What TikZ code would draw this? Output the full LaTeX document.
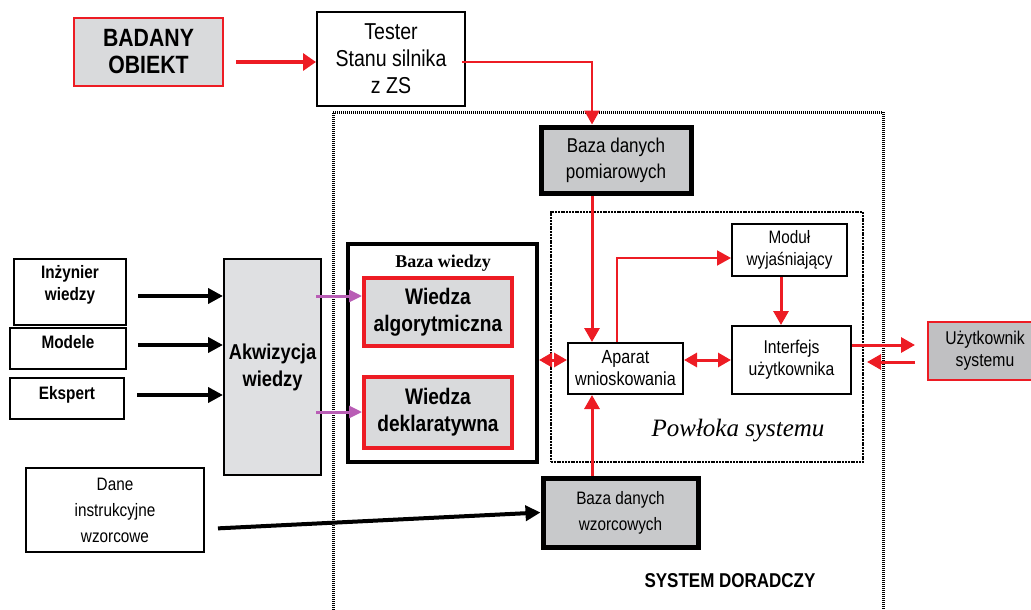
\documentclass[tikz,border=0pt]{standalone}
\usepackage{fontspec}
\setmainfont{Liberation Sans}[FakeStretch=0.85]
\newfontfamily\serifbf{Liberation Serif}
\usetikzlibrary{arrows.meta,calc}
\definecolor{rd}{HTML}{ED1C24}
\definecolor{gA}{HTML}{D9DADC}
\definecolor{gB}{HTML}{C8C9CB}
\definecolor{gC}{HTML}{C0C0C2}
\definecolor{gD}{HTML}{DFE0E2}
\definecolor{mg}{HTML}{B95DB5}
\tikzset{
  box/.style={draw=black, line width=2pt, fill=white, align=center, inner sep=0pt},
  thickbox/.style={draw=black, line width=5pt, fill=gB, align=center, inner sep=0pt},
  redbox/.style={draw=rd, line width=4pt, fill=gA, align=center, inner sep=0pt},
  rarrow/.style={draw=rd, line width=3pt, -{Triangle[length=14pt,width=15pt]}},
  rdouble/.style={draw=rd, line width=3pt, {Triangle[length=13pt,width=14pt]}-{Triangle[length=13pt,width=14pt]}},
  barrow/.style={draw=black, line width=4pt, -{Triangle[length=15pt,width=15pt]}},
  marrow/.style={draw=mg, line width=3pt, -{Triangle[length=13pt,width=12pt]}},
  dotline/.style={draw=black, line width=3pt, dash pattern=on 1pt off 1pt},
}
\begin{document}
\begin{tikzpicture}[x=1pt,y=-1pt]
\useasboundingbox (0,0) rectangle (1031,610);
% system frame
\draw[dotline] (333,610) -- (333,112) -- (883,112) -- (883,610);
\node[font=\bfseries\fontsize{20}{24}\selectfont] (sysl) at (730,581) {SYSTEM DORADCZY};
% powloka
\node[draw=black, line width=2pt, dash pattern=on 2pt off 0.8pt, minimum width=312, minimum height=250, inner sep=0pt] (pow) at (707,337) {};
\node[font=\serifbf\itshape\fontsize{25}{30}\selectfont] (powl) at (738,431) {Powłoka systemu};
% top
\node[redbox, line width=2pt, minimum width=149, minimum height=68, font=\bfseries\fontsize{25}{27}\selectfont] (bad) at (148.5,52) {BADANY\\OBIEKT};
\node[box, minimum width=148, minimum height=94, font=\fontsize{23}{27}\selectfont] (tester) at (391,59) {Tester\\Stanu silnika\\z ZS};
\node[thickbox, minimum width=150, minimum height=66, font=\fontsize{20}{26}\selectfont] (bpom) at (616,160) {Baza danych\\pomiarowych};
% knowledge base
\node[box, line width=4pt, minimum width=189, minimum height=218] (bw) at (442.5,353) {};
\node[font=\serifbf\bfseries\fontsize{18}{20}\selectfont] (bwl) at (443,263) {Baza wiedzy};
\node[redbox, minimum width=148, minimum height=68, font=\bfseries\fontsize{22.5}{27}\selectfont] (walg) at (438,312) {Wiedza\\algorytmiczna};
\node[redbox, minimum width=148, minimum height=71, font=\bfseries\fontsize{22.5}{27}\selectfont] (wdek) at (438,412.5) {Wiedza\\deklaratywna};
% acquisition
\node[box, fill=gD, minimum width=97, minimum height=216, font=\bfseries\fontsize{21.5}{27}\selectfont] (akw) at (272.5,367) {Akwizycja\\wiedzy};
\node[box, minimum width=112, minimum height=66, text depth=18pt, font=\bfseries\fontsize{18}{22}\selectfont] (inz) at (70,292) {Inżynier\\wiedzy};
\node[box, minimum width=116, minimum height=41, text depth=14pt, font=\bfseries\fontsize{18}{22}\selectfont] (mod) at (68,348.5) {Modele};
\node[box, minimum width=114, minimum height=41, text depth=12pt, font=\bfseries\fontsize{18}{22}\selectfont] (eks) at (67,398.5) {Ekspert};
\node[box, minimum width=178, minimum height=84, font=\fontsize{18}{26}\selectfont] (dane) at (115,510) {Dane\\instrukcyjne\\wzorcowe};
\node[thickbox, minimum width=155, minimum height=69, font=\fontsize{18}{26}\selectfont] (bwz) at (620.5,512.5) {Baza danych\\wzorcowych};
% shell
\node[box, minimum width=115, minimum height=51, font=\fontsize{19}{22}\selectfont] (apa) at (625.5,368.5) {Aparat\\wnioskowania};
\node[box, minimum width=115, minimum height=52, font=\fontsize{18}{22}\selectfont] (modw) at (789.5,250) {Moduł\\wyjaśniający};
\node[box, minimum width=119, minimum height=68, font=\fontsize{18.5}{22}\selectfont] (intf) at (791.5,360) {Interfejs\\użytkownika};
\node[redbox, line width=2pt, fill=gC, minimum width=114, minimum height=58, font=\fontsize{18.5}{22}\selectfont] (uzyt) at (985,351) {Użytkownik\\systemu};
% helper coordinates
\coordinate (Ybad) at (0,62);
\coordinate (Xl) at (592,0);
\coordinate (Xm) at (617,258);
\coordinate (Xv) at (781,0);
\coordinate (Yu1) at (0,345);
\coordinate (Yu2) at (0,362);
\coordinate (Y1) at (0,296);
\coordinate (Y2) at (0,345);
\coordinate (Y3) at (0,395);
\coordinate (Ym2) at (0,412);
% connectors
\draw[draw=rd, line width=4pt, -{Triangle[length=13pt,width=17pt]}, shorten <=12pt] (bad.east |- Ybad) -- (tester.west |- Ybad);
\draw[rarrow, line width=2.5pt] ($(tester.east |- Ybad)+(-4,0)$) -| (bpom.north -| Xl);
\draw[rarrow] (bpom.south -| Xl) -- (apa.north -| Xl);
\draw[rarrow] (bwz.north -| Xl) -- (apa.south -| Xl);
\draw[rarrow, line width=2pt] (apa.north -| Xm) |- (modw.west |- Xm);
\draw[rarrow] (modw.south -| Xv) -- (intf.north -| Xv);
\draw[rdouble] (apa.east |- intf.west) -- (intf.west);
\draw[rdouble] (bw.east |- intf.west) -- (apa.west |- intf.west);
\draw[rarrow, shorten >=12pt] (intf.east |- Yu1) -- (uzyt.west |- Yu1);
\draw[rarrow, shorten <=12pt, shorten >=15pt] (uzyt.west |- Yu2) -- (intf.east |- Yu2);
\draw[barrow, shorten <=11pt] (inz.east |- Y1) -- (akw.west |- Y1);
\draw[barrow, shorten <=11pt] (mod.east |- Y2) -- (akw.west |- Y2);
\draw[barrow, shorten <=12pt] (eks.east |- Y3) -- (akw.west |- Y3);
\draw[marrow, shorten <=-6pt] (akw.east |- Y1) -- (walg.west |- Y1);
\draw[marrow, shorten <=-6pt] (akw.east |- Ym2) -- (wdek.west |- Ym2);
\draw[barrow, shorten <=13pt] ($(dane.east)+(0,19)$) -- (bwz.west);
\end{tikzpicture}
\end{document}
